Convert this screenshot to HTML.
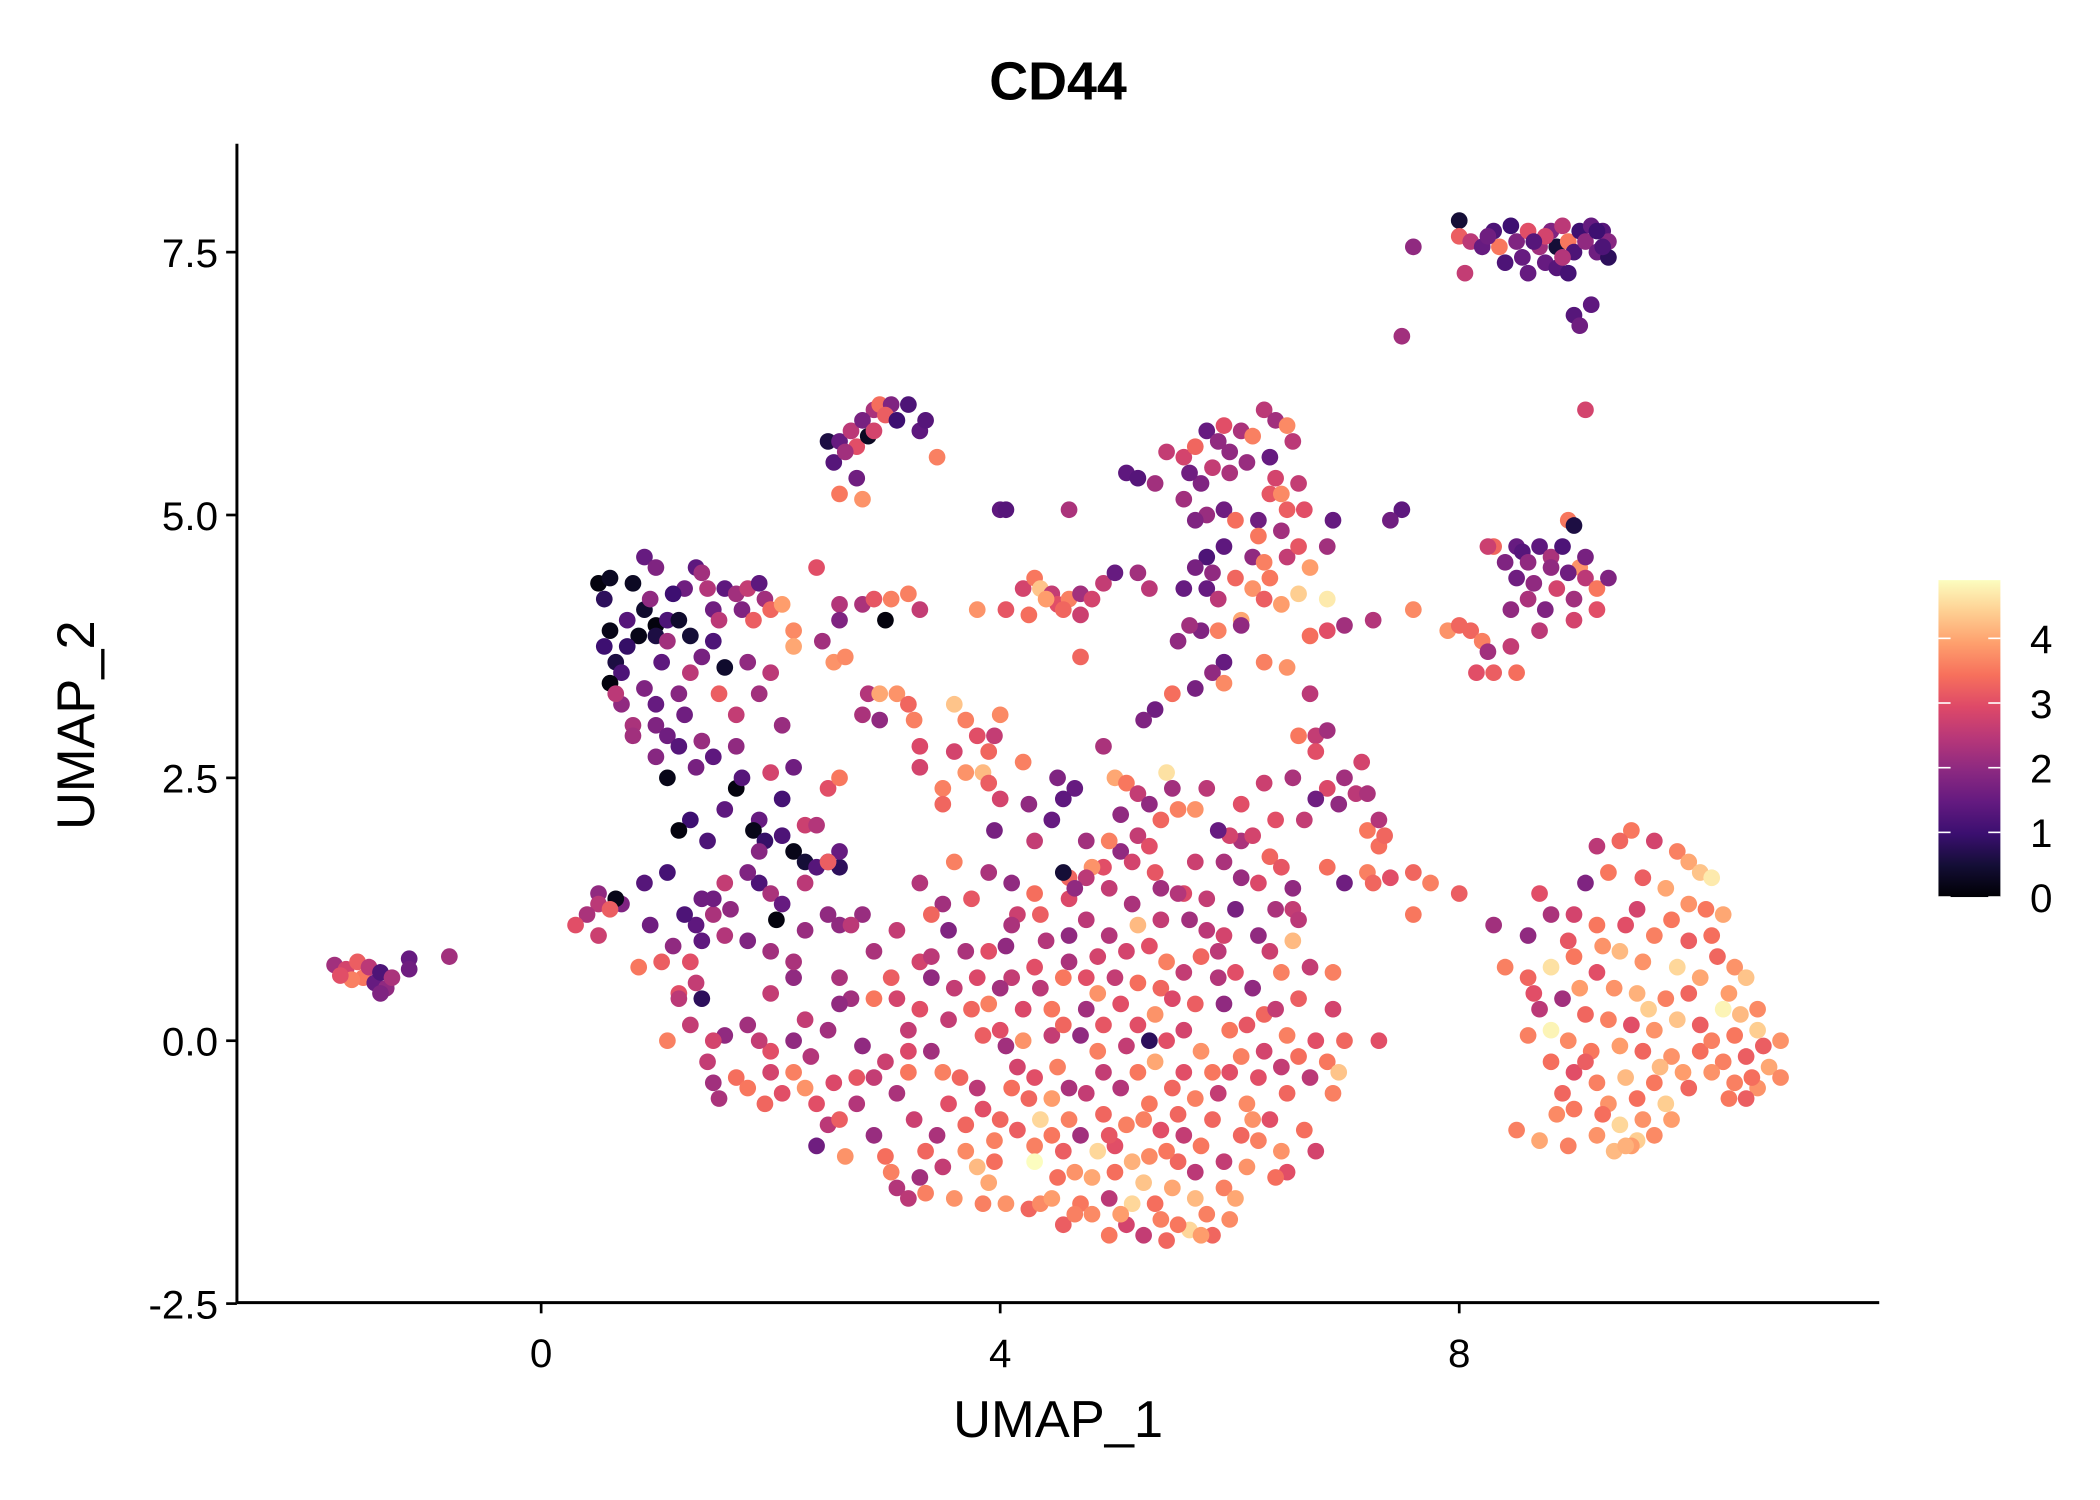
<!DOCTYPE html>
<html><head><meta charset="utf-8"><style>
html,body{margin:0;padding:0;background:#fff;}
svg{display:block;font-family:"Liberation Sans",sans-serif;}
</style></head><body>
<svg id="chart" width="2100" height="1500" viewBox="0 0 1560 1117" preserveAspectRatio="none" xmlns="http://www.w3.org/2000/svg">
<defs>
<linearGradient id="magma" x1="0" y1="1" x2="0" y2="0">
<stop offset="0" stop-color="#000004"/><stop offset="0.1" stop-color="#140e36"/><stop offset="0.2" stop-color="#3b0f70"/><stop offset="0.3" stop-color="#641a80"/><stop offset="0.4" stop-color="#8c2981"/><stop offset="0.5" stop-color="#b73779"/><stop offset="0.6" stop-color="#de4968"/><stop offset="0.7" stop-color="#f7705c"/><stop offset="0.8" stop-color="#fe9f6d"/><stop offset="0.9" stop-color="#fecf92"/><stop offset="1" stop-color="#fcfdbf"/>
</linearGradient>
</defs>
<text x="786" y="74" text-anchor="middle" font-size="40" font-weight="bold">CD44</text>
<g id="points"></g>
<g id="axes"></g>
<text x="786" y="1070" text-anchor="middle" font-size="39">UMAP_1</text>
<text x="70" y="540" text-anchor="middle" font-size="39" transform="rotate(-90 70 540)">UMAP_2</text>
<rect x="1440" y="432" width="46" height="236" fill="url(#magma)"/>
<g id="cbar"></g>
</svg>
<script>
const xTicks=[0,4,8];
const yTicks=[-2.5,0,2.5,5,7.5];
const yTickLabels=["-2.5","0.0","2.5","5.0","7.5"];
const cbTicks=[0,1,2,3,4];
const vMax=4.9;
const xs=[],ys=[],vs=[];
const raw=[
[-1.8,0.72,2.2],[-1.7,0.68,2.8],[-1.6,0.75,3.2],[-1.55,0.6,3.5],[-1.5,0.7,2.5],[-1.45,0.55,1.5],[-1.4,0.65,1.2],[-1.35,0.5,2],[-1.3,0.6,2.3],[-1.4,0.45,1.8],[-1.65,0.58,3.6],[-1.15,0.78,1.5],[-1.15,0.68,1.6],[-0.8,0.8,2.2],[-1.75,0.62,3],
[8.0,7.8,0.5],[8.0,7.65,3.2],[8.1,7.6,2.5],[8.2,7.55,1.5],[8.3,7.7,1.2],[8.35,7.55,3.5],[8.45,7.75,1],[8.5,7.6,1.8],[8.55,7.45,1.5],[8.6,7.7,3],[8.7,7.55,2.2],[8.75,7.4,1.5],[8.8,7.7,1.8],[8.85,7.55,0.5],[8.9,7.75,2.5],[8.95,7.6,3.5],[9.0,7.5,1.2],[9.05,7.7,1],[9.1,7.6,2],[9.15,7.75,1.5],[9.2,7.5,1.6],[9.25,7.7,1.3],[9.3,7.45,0.8],[9.3,7.6,1.9],[8.05,7.3,2.6],[8.6,7.3,1.5],[8.85,7.35,1.3],[9.0,6.9,1.3],[9.05,6.8,1.6],[9.15,7.0,1.4],[8.4,7.4,1.2],[7.6,7.55,2],[7.5,6.7,2.2],[9.1,6.0,2.8],[8.75,7.65,2.8],[8.95,7.3,1.1],[8.25,7.65,1.6],[8.65,7.6,1.3],[9.2,7.7,1.0],[8.9,7.45,2.4],[9.25,7.55,1.2],
[8.5,4.7,1.5],[8.55,4.65,1.3],[8.6,4.55,2],[8.7,4.7,1.4],[8.8,4.6,2.3],[8.9,4.7,1.2],[8.95,4.95,3.5],[9.0,4.9,0.6],[9.05,4.5,3.8],[9.1,4.4,2.5],[9.2,4.3,3.5],[9.0,4.2,2.2],[8.85,4.3,2.8],[8.75,4.1,1.8],[8.6,4.2,2.3],[8.5,4.4,1.6],[8.45,4.1,2],[8.7,3.9,2.5],[8.3,4.7,3.3],[8.25,4.7,2.7],[8.1,3.9,3.3],[8.2,3.8,3.6],[8.25,3.7,2.2],[8.15,3.5,3],[8.3,3.5,3.2],[8.5,3.5,3.4],[8.45,3.75,2.6],[9.2,4.1,3],[9.0,4.0,2.8],[7.9,3.9,3.8],[8.0,3.95,3.3],[8.8,4.5,2],[9.1,4.6,1.7],[9.3,4.4,1.8],[8.65,4.35,2.0],[8.95,4.45,1.6],[8.4,4.55,1.8],
[9.5,2.0,3.5],[9.4,1.9,3.3],[9.7,1.9,2.8],[9.9,1.8,3.6],[10,1.7,4],[10.1,1.6,4.3],[10.2,1.55,4.7],[9.2,1.85,2.5],[9.1,1.5,1.8],[9.3,1.6,3.5],[9.6,1.55,3.2],[9.8,1.45,4],[10.0,1.3,3.8],[10.15,1.25,3.5],[10.3,1.2,4],[8.7,1.4,3],[8.8,1.2,2.3],[8.6,1.0,2],[9.0,1.2,2.8],[9.2,1.1,3.5],[9.45,1.1,3],[9.7,1.0,3.6],[10.0,0.95,3.2],[10.2,1.0,3.4],[9.4,0.85,4.2],[9.6,0.75,3.8],[9.9,0.7,4.5],[10.1,0.6,4.0],[10.4,0.7,3.8],[8.4,0.7,3.6],[8.6,0.6,3.3],[8.8,0.7,4.6],[9.0,0.8,3.5],[9.2,0.65,3],[9.35,0.5,3.8],[9.55,0.45,4.1],[9.8,0.4,3.6],[10.0,0.45,3.3],[10.3,0.3,4.8],[10.6,0.3,3.7],[8.7,0.3,2.5],[8.9,0.4,2.2],[9.1,0.25,3.3],[9.3,0.2,3.6],[9.5,0.15,3.0],[9.7,0.1,3.8],[9.9,0.2,4.3],[10.1,0.15,3.2],[10.4,0.05,3.5],[10.6,0.1,4.4],[10.8,0.0,3.8],[8.8,0.1,4.8],[8.95,0.0,3.7],[9.15,-0.1,3.5],[9.4,-0.05,3.9],[9.6,-0.1,3.3],[9.85,-0.15,3.8],[10.1,-0.1,3.4],[10.3,-0.2,3.6],[10.5,-0.15,3.2],[10.7,-0.25,4],[9.0,-0.3,3],[9.2,-0.4,3.6],[9.45,-0.35,4.2],[9.7,-0.4,3.5],[10.0,-0.45,3.3],[10.4,-0.4,3.6],[10.6,-0.45,3.8],[8.9,-0.5,3.3],[9.3,-0.6,3.8],[9.55,-0.55,3.4],[9.8,-0.6,4.4],[10.5,-0.55,3.2],[9.0,-0.65,3.5],[9.4,-0.8,4.5],[9.6,-0.75,3.8],[9.85,-0.75,3.9],[9.2,-0.9,3.8],[9.35,-1.05,4.2],[9.55,-0.95,4.4],[9.7,-0.9,3.7],[8.95,-1.0,3.6],[8.7,-0.95,4],[8.5,-0.85,3.6],[9.5,-1.0,3.9],[8.8,-0.2,3.4],[10.65,-0.05,3.2],[10.2,-0.3,3.8],[10.5,0.6,4.3],[8.3,1.1,2.2],[8.0,1.4,3.2],[7.75,1.5,3.6],[7.6,1.6,3.3],
[9.25,0.9,3.8],[9.55,1.25,2.8],[9.85,1.15,3.5],[10.35,0.45,3.9],[10.25,0.8,3.3],[9.05,0.5,3.9],[8.95,0.95,3.1],[9.65,0.3,4.4],[10.2,0.0,3.6],[10.55,-0.35,3.4],[9.75,-0.25,4.2],[9.1,-0.2,3.2],[8.85,-0.7,3.7],[9.25,-0.7,3.4],[9.45,-1.0,4.1],[10.8,-0.35,3.7],[10.35,-0.55,3.5],[9.95,-0.3,3.9],[8.6,0.05,3.6],[8.65,0.45,3.0],[10.45,0.25,4.2],
[0.5,4.35,0.1],[0.6,4.4,0.3],[0.55,4.2,0.8],[0.6,3.9,0.2],[0.55,3.75,1],[0.65,3.6,0.6],[0.7,3.5,1.2],[0.6,3.4,0.1],[0.8,4.35,0.3],[0.9,4.1,0.4],[1.0,3.95,0.1],[1.0,3.85,0.6],[0.85,3.85,0.2],[0.7,3.2,2.0],[0.65,3.3,2.5],[0.8,3.0,2.3],[0.8,2.9,2.2],[0.9,4.6,1.5],[1.0,4.5,1.8],[0.95,4.2,2],[1.1,4.0,1.2],[1.1,3.8,2.2],[1.2,4.0,0.4],[1.3,3.85,0.5],[1.35,4.5,1.4],[1.4,4.45,2.2],[1.45,4.3,2.4],[1.25,4.3,1.6],[1.5,4.1,1.6],[1.55,4.0,2.5],[1.6,4.3,1.4],[1.7,4.25,2.2],[1.8,4.3,2.6],[1.75,4.1,1.8],[1.9,4.35,1.4],[1.95,4.2,2.2],[2.0,4.1,3.3],[2.1,4.15,3.9],[1.85,4.0,3.2],[1.6,3.55,0.4],[1.4,3.65,1.7],[1.3,3.5,2.5],[1.2,3.3,1.9],[1.0,3.2,1.5],[1.0,3.0,1.8],[1.1,2.9,1.6],[1.2,2.8,1.3],[1.4,2.85,2.1],[1.35,2.6,1.7],[1.5,2.7,1.4],[1.3,2.1,1.0],[1.1,2.5,0.2],[1.2,2.0,0.1],[1.7,3.1,2.6],[1.55,3.3,3.2],[1.9,3.3,2.2],[2.0,3.5,2.5],[2.1,3.0,2.1],[1.7,2.8,2.0],[1.7,2.4,0.1],[1.75,2.5,1.3],[1.9,2.1,1.5],[1.85,2.0,0.2],[1.95,1.9,0.9],[2.1,1.95,1.2],[2.2,1.8,0.2],[2.1,2.3,1.1],[2.0,2.55,2.8],[2.3,1.7,0.5],[2.4,1.65,1.3],[2.6,1.65,0.8],[2.5,1.7,1.7],[2.6,1.8,1.5],[1.9,1.8,1.9],[1.9,1.5,1.2],[2.0,1.4,2.3],[2.05,1.15,0.1],[2.1,1.3,1.5],[1.8,1.6,1.8],[1.6,1.5,2.6],[1.5,1.2,2.3],[1.4,1.35,1.6],[1.35,1.1,1.4],[1.25,1.2,1.2],[1.1,1.6,1.1],[0.9,1.5,1.3],[0.7,1.3,1.8],[0.65,1.35,0.2],[0.5,1.4,2.0],[0.5,1.3,2.5],[0.6,1.25,3.2],[0.4,1.2,2.3],[0.3,1.1,3.0],[0.5,1.0,2.7],[1.6,1.0,2.4],[1.4,0.95,1.4],[1.8,0.95,1.8],[2.0,0.85,2.2],[2.3,1.05,2.1],[2.6,1.1,2.0],[1.5,1.35,1.6],[1.15,0.9,2.0],[0.85,0.7,3.5],[1.05,0.75,3.2],[1.3,0.75,3.0],[1.35,0.55,2.6],[1.4,0.4,0.8],[1.2,0.45,3.0],[2.3,1.5,2.5],
[0.75,4.0,1.3],[1.15,4.25,1.0],[1.05,3.6,1.4],[0.75,3.75,0.9],[1.5,3.8,1.2],[1.8,3.6,2.0],[1.25,3.1,1.6],[0.9,3.35,1.8],[1.6,2.2,1.4],[1.45,1.9,1.2],[2.2,2.6,1.6],[1.0,2.7,1.9],[1.65,1.25,2.0],[0.95,1.1,1.6],
[2.4,4.5,3.0],[2.6,4.15,2.4],[2.6,4.0,1.8],[2.8,4.15,2.3],[2.9,4.2,3.1],[3.0,4.0,0.1],[3.05,4.2,3.6],[3.2,4.25,3.6],[3.3,4.1,2.6],[2.2,3.9,3.7],[2.2,3.75,4.0],[2.55,3.6,3.8],[2.65,3.65,3.7],[2.85,3.3,2.4],[2.95,3.3,4.0],[3.1,3.3,3.8],[2.8,3.1,2.3],[2.95,3.05,2.0],[3.25,3.05,3.6],[3.3,2.8,2.9],[2.45,3.8,2.2],[2.5,2.4,3.0],[2.6,2.5,3.5],[2.3,2.05,2.7],[2.4,2.05,2.4],[2.5,1.7,3.2],
[2.5,5.7,0.6],[2.6,5.7,1.5],[2.7,5.8,2.5],[2.75,5.65,3],[2.85,5.75,0.3],[2.9,6.0,2.3],[2.95,6.05,3.4],[3.05,6.05,1.8],[3.2,6.05,1.2],[2.8,5.9,1.7],[2.9,5.8,2.8],[3.3,5.8,1.4],[3.35,5.9,1.3],[2.55,5.5,1.3],[2.75,5.35,1.6],[2.6,5.2,3.5],[2.8,5.15,3.8],[3.45,5.55,3.6],[3.0,5.95,3.2],[2.65,5.6,2.2],[3.1,5.9,1.0],
[4.0,5.05,1.4],[4.05,5.05,1.3],[4.6,5.05,2.3],[4.2,4.3,2.8],[4.3,4.4,3.5],[4.35,4.3,4.3],[4.45,4.25,2.6],[4.5,4.15,3],[4.6,4.2,3.6],[4.7,4.05,2.7],[4.7,4.25,2.2],[4.8,4.2,2.8],[4.9,4.35,2.6],[4.25,4.05,3.4],[4.05,4.1,3.1],[3.8,4.1,3.8],[5.0,4.45,1.5],[4.7,3.65,3.3],[5.2,4.45,2.2],[5.3,4.3,2.5],[4.55,4.1,3.3],[4.4,4.2,3.9],
[5.1,5.4,1.4],[5.2,5.35,1.3],[5.35,5.3,2.2],[5.45,5.6,2.6],[5.6,5.55,2.8],[5.7,5.65,3.3],[5.8,5.8,1.5],[5.9,5.7,2.0],[5.95,5.85,3.0],[6.1,5.8,2.3],[6.3,6.0,2.5],[6.2,5.75,3.6],[6.4,5.9,2.2],[6.5,5.85,3.7],[6.55,5.7,2.5],[6.35,5.55,1.5],[6.15,5.5,2.1],[6.0,5.4,2.3],[5.85,5.45,2.6],[5.75,5.3,1.8],[5.6,5.15,2.2],[5.8,5.0,2.1],[5.95,5.05,1.6],[6.05,4.95,3.4],[6.25,4.95,1.6],[6.35,5.2,3.1],[6.45,5.2,3.7],[6.5,5.05,3.2],[6.6,5.3,2.6],[6.65,5.05,3.0],[6.5,4.6,2.6],[6.6,4.7,3.1],[6.7,4.5,3.9],[6.45,4.85,2.2],[6.25,4.8,3.5],[5.7,4.95,1.8],[5.8,4.6,1.2],[5.85,4.45,2.0],[5.7,4.5,1.7],[5.6,4.3,1.5],[5.8,4.3,1.5],[5.9,4.2,2.5],[5.9,3.9,3.6],[5.75,3.9,1.8],[5.65,3.95,2.2],[5.55,3.8,2.0],[6.1,4.0,4.0],[6.2,4.3,3.8],[6.3,4.2,3.2],[6.35,4.4,3.5],[6.45,4.15,3.9],[6.6,4.25,4.4],[6.85,4.2,4.7],[6.7,3.85,3.4],[6.85,3.9,3.0],[6.1,3.95,2.0],[5.95,3.6,1.5],[5.85,3.5,2.0],[5.7,3.35,1.7],[5.5,3.3,3.4],[5.95,3.4,3.7],[6.3,3.6,3.6],[6.5,3.55,3.8],[6.7,3.3,2.5],[5.35,3.15,1.6],[5.25,3.05,1.8],[6.9,4.95,1.5],[6.2,4.6,2.0],[7.25,4.0,2.4],[7.5,5.05,1.4],[7.4,4.95,1.6],[7.6,4.1,3.7],[7.0,3.95,2.2],[6.85,4.7,2.2],[6.3,4.55,3.6],[6.0,5.6,2.0],[5.65,5.4,1.6],[6.4,5.35,2.8],[5.95,4.7,1.4],[6.05,4.4,3.3],
[3.2,3.2,3.3],[3.3,2.6,2.8],[3.6,3.2,4.3],[3.7,3.05,3.6],[3.6,2.75,2.8],[3.8,2.9,3.0],[3.9,2.75,3.3],[4.0,3.1,3.7],[3.95,2.9,2.6],[3.7,2.55,3.8],[3.5,2.4,3.6],[3.85,2.55,4.2],[3.9,2.45,3.2],[4.2,2.65,3.6],[4.0,2.3,2.8],[3.5,2.25,3.3],[4.25,2.25,2.0],[3.95,2.0,1.7],[4.5,2.5,1.8],[4.65,2.4,1.5],[4.55,2.3,1.4],[4.45,2.1,1.5],[4.9,2.8,2.3],[5.0,2.5,4.0],[5.1,2.45,3.5],[5.2,2.35,2.6],[5.3,2.25,2.0],[5.45,2.55,4.6],[5.5,2.4,2.2],[5.55,2.2,3.6],[5.05,2.15,2.0],[5.4,2.1,3.3],[5.7,2.2,3.8],[5.8,2.4,2.5],[5.2,1.95,2.6],[5.3,1.85,3.0],[5.05,1.8,2.0],[5.15,1.7,2.8],[4.95,1.9,3.6],[4.9,1.65,3.0],[4.8,1.65,3.8],[4.75,1.55,2.5],[4.6,1.55,3.3],[4.55,1.6,0.5],[4.3,1.4,3.4],[4.6,1.35,2.9],[4.65,1.45,2.0],[4.95,1.45,2.6],[5.15,1.3,2.3],[5.4,1.45,2.2],[5.6,1.4,2.9],[5.8,1.35,2.6],[5.95,1.7,2.3],[6.1,1.9,2.3],[6.2,1.95,2.8],[6.35,1.75,3.3],[6.1,1.55,2.1],[6.25,1.5,2.9],[6.45,1.65,3.1],[6.55,1.45,2.0],[6.85,1.65,3.4],[7.0,1.5,1.6],[7.2,1.6,3.6],[7.25,1.5,3.3],[7.4,1.55,3.0],[7.3,1.85,3.4],[7.35,1.95,3.3],[7.2,2.0,3.5],[7.1,2.35,2.5],[7.2,2.35,2.3],[7.0,2.5,2.2],[7.15,2.65,2.8],[6.75,2.9,2.6],[6.85,2.95,2.2],[6.6,2.9,3.5],[6.55,2.5,2.3],[6.85,2.4,2.9],[6.95,2.25,2.0],[6.65,2.1,2.6],[6.75,2.3,1.6],[6.3,2.45,2.7],[6.1,2.25,3.0],[6.0,1.95,2.8],[6.75,2.75,3.0],[5.9,2.0,1.5],[7.3,2.1,2.4],[3.6,1.7,3.6],[3.9,1.6,2.3],[4.1,1.5,2.0],[3.5,1.3,2.2],[3.4,1.2,3.3],
[4.3,1.9,2.6],[4.75,1.9,2.2],[5.35,1.6,3.1],[5.7,1.7,2.7],[6.4,2.1,3.0],[6.55,1.25,2.6],[4.15,1.2,2.7],[3.75,1.35,3.1],[3.3,1.5,2.4],[3.1,1.05,2.6],[2.9,0.85,2.3],[2.8,1.2,2.1],
[2.5,1.2,2.0],[2.7,1.1,2.5],[2.6,0.6,2.3],[2.7,0.4,2.2],[2.6,0.35,2.0],[2.5,0.1,2.2],[2.3,0.2,2.6],[2.2,0.0,2.0],[2.0,-0.1,3.0],[1.9,0.0,2.6],[1.8,0.15,2.2],[1.6,0.05,2.0],[1.5,0.0,2.8],[1.3,0.15,2.6],[1.2,0.4,2.5],[1.1,0.0,3.6],[1.45,-0.2,2.6],[1.5,-0.4,2.2],[1.55,-0.55,2.3],[1.7,-0.35,3.4],[1.8,-0.45,3.5],[1.95,-0.6,3.3],[2.0,-0.3,2.8],[2.1,-0.5,3.0],[2.2,-0.3,3.6],[2.3,-0.45,3.8],[2.4,-0.6,3.0],[2.5,-0.8,2.5],[2.4,-1.0,1.6],[2.6,-0.75,3.2],[2.65,-1.1,3.8],[2.75,-0.6,2.4],[2.9,-0.35,2.6],[3.0,-0.2,2.7],[3.1,-0.5,2.3],[2.9,-0.9,2.1],[3.0,-1.1,3.4],[3.05,-1.25,3.6],[3.1,-1.4,2.4],[3.3,-1.3,2.2],[3.35,-1.45,3.6],[3.6,-1.5,3.8],[3.8,-1.2,4.2],[3.5,-1.2,2.6],[3.45,-0.9,2.3],[3.7,-0.8,3.3],[3.85,-0.65,3.0],[3.95,-0.95,3.6],[4.0,-0.75,3.3],[3.8,-0.45,2.5],[3.65,-0.35,3.3],[3.5,-0.3,3.6],[3.4,-0.1,2.2],[3.2,0.1,2.6],[3.3,0.3,3.0],[3.1,0.4,2.8],[2.9,0.4,3.5],[3.05,0.6,3.2],[3.4,0.6,2.0],[3.6,0.5,2.6],[3.75,0.3,3.3],[3.7,0.85,2.3],[3.55,1.05,1.8],[3.9,0.85,3.0],[4.05,0.9,2.0],[4.1,0.6,2.6],[3.9,0.35,3.6],[4.0,0.1,3.0],[4.05,-0.05,2.2],[4.2,0.0,3.8],[4.15,-0.25,2.8],[4.3,-0.35,3.0],[4.25,-0.55,3.3],[4.35,-0.75,4.5],[4.3,-1.0,3.6],[4.3,-1.15,4.9],[4.25,-1.6,3.3],[4.05,-1.55,3.8],[4.5,-1.3,3.4],[4.55,-1.05,3.2],[4.6,-0.75,3.6],[4.6,-0.45,2.3],[4.5,-0.25,3.6],[4.45,0.05,2.6],[4.45,0.3,3.5],[4.35,0.5,2.5],[4.3,0.7,3.0],[4.4,0.95,2.4],[4.35,1.2,3.2],[4.6,1.0,2.0],[4.6,0.75,2.3],[4.75,0.6,3.0],[4.85,0.45,3.8],[4.75,0.3,2.2],[4.7,0.05,2.0],[4.85,-0.1,3.6],[4.9,-0.3,2.6],[4.75,-0.5,2.6],[4.9,-0.7,3.3],[4.7,-0.9,2.2],[4.85,-1.05,4.5],[4.8,-1.3,4.0],[4.7,-1.55,3.5],[4.8,-1.65,3.7],[4.95,-1.5,2.5],[5.0,-1.25,3.4],[5.0,-1.0,3.0],[5.1,-0.8,3.6],[5.05,-0.45,2.4],[5.2,-0.3,3.5],[5.1,-0.05,2.6],[5.2,0.15,3.0],[5.05,0.35,3.0],[5.0,0.6,2.6],[5.1,0.85,2.8],[4.95,1.0,2.4],[5.2,1.1,4.2],[5.3,0.9,3.0],[5.45,0.75,3.6],[5.4,0.5,3.3],[5.35,0.25,3.8],[5.45,0.0,3.0],[5.35,-0.2,4.0],[5.5,-0.45,3.3],[5.3,-0.6,3.5],[5.4,-0.85,3.0],[5.3,-1.1,3.7],[5.25,-1.35,4.3],[5.15,-1.55,4.5],[5.1,-1.75,2.8],[5.25,-1.85,2.6],[5.4,-1.7,3.6],[5.5,-1.4,4.0],[5.55,-1.15,3.3],[5.6,-0.9,2.6],[5.7,-0.55,3.6],[5.6,-0.3,3.0],[5.75,-0.1,3.8],[5.6,0.1,2.8],[5.7,0.35,3.2],[5.6,0.65,2.6],[5.75,0.8,3.3],[5.8,1.05,2.5],[5.65,1.15,2.2],[5.9,0.6,2.4],[5.95,0.35,2.0],[6.0,0.1,3.5],[6.1,-0.15,3.6],[6.0,-0.3,3.0],[5.9,-0.5,2.6],[5.85,-0.75,3.3],[5.75,-1.0,3.5],[5.7,-1.25,2.5],[5.7,-1.5,4.2],[5.8,-1.65,3.6],[5.85,-1.85,3.3],[5.65,-1.8,4.5],[5.95,-1.4,3.6],[5.95,-1.15,2.6],[6.1,-0.9,3.3],[6.15,-0.6,3.7],[6.25,-0.35,3.0],[6.3,-0.1,2.8],[6.3,0.25,3.3],[6.2,0.5,2.0],[6.45,0.65,3.6],[6.55,0.95,4.2],[6.6,1.15,2.5],[6.4,1.25,2.3],[6.25,1.0,2.0],[6.4,0.3,2.6],[6.5,0.05,3.6],[6.45,-0.25,2.6],[6.5,-0.5,3.3],[6.35,-0.75,3.0],[6.25,-0.95,3.6],[6.45,-1.05,3.8],[6.65,-0.85,3.4],[6.75,-1.05,2.8],[6.7,-0.35,2.5],[6.85,-0.2,3.5],[6.9,-0.5,3.6],[6.75,0.0,3.0],[7.0,0.0,3.3],[6.9,0.3,2.8],[6.9,0.65,3.6],[6.95,-0.3,4.3],[7.3,0.0,3.0],[7.6,1.2,3.5],[6.15,-1.2,3.8],[6.5,-1.25,3.0],[6.05,-1.5,4.0],[3.2,-0.3,3.5],[2.8,-0.05,2.0],[2.2,0.6,2.0],[2.0,0.45,2.6],[2.2,0.75,2.3],[3.3,0.75,2.8],[3.4,0.8,2.5],[4.0,0.5,2.2],[5.55,1.4,2.4],[5.9,0.85,2.5],[6.05,1.25,1.7],[5.95,1.0,2.8],[4.55,0.6,3.5],[5.3,0.0,0.8],[3.95,-1.15,3.4],[4.35,-1.55,3.7],[4.55,-1.75,3.2],[4.65,-1.65,3.6],[5.05,-1.65,3.9],[5.35,-1.55,3.4],[5.55,-1.75,3.5],[5.75,-1.85,3.9],[3.2,-1.5,2.5],
[2.35,-0.15,2.4],[2.75,-0.35,3.1],[2.55,-0.4,2.9],[3.25,-0.75,2.7],[3.55,-0.6,3.0],[3.35,-1.05,3.3],[3.7,-1.05,3.7],[3.9,-1.35,4.0],[4.1,-0.45,3.4],[4.15,-0.85,3.2],[4.45,-0.55,3.9],[4.45,-0.9,3.5],[4.65,-1.25,3.8],[4.95,-0.9,3.1],[5.15,-1.15,4.1],[5.25,-0.75,3.6],[5.45,-1.05,3.5],[5.55,-0.7,3.3],[5.85,-0.3,3.5],[5.5,0.4,2.9],[5.2,0.55,3.4],[4.9,0.15,3.1],[4.55,0.15,3.3],[4.2,0.3,2.9],[3.85,0.05,3.2],[3.55,0.2,2.6],[3.2,-0.1,2.9],[6.15,0.15,3.1],[6.05,0.65,3.0],[6.35,0.85,2.7],[6.6,0.4,3.2],[6.7,0.7,2.6],[6.6,-0.15,3.4],[6.2,-0.75,3.8],[6.4,-1.3,3.4],[6.0,-1.7,3.7],[5.45,-1.9,3.3],[4.95,-1.85,3.5],[4.45,-1.5,3.9],[3.85,-1.55,3.6],[4.85,0.8,2.8],[5.4,1.15,2.6],[4.75,1.15,2.5],[4.1,1.1,2.3],[3.8,0.6,2.9]
];
raw.forEach(p=>{xs.push(p[0]);ys.push(p[1]);vs.push(p[2]);});

const NS="http://www.w3.org/2000/svg";
const X0=176,X1=1396,Y0=970,Y1=107;
const sx=v=>402+v*85.25;
const sy=v=>775-v*78.3;
const cb=v=>668-v*(236/vMax);
const stops=["#000004","#140e36","#3b0f70","#641a80","#8c2981","#b73779","#de4968","#f7705c","#fe9f6d","#fecf92","#fcfdbf"];
function hex(h){return [1,3,5].map(i=>parseInt(h.substr(i,2),16));}
function magma(t){t=Math.max(0,Math.min(1,t));const f=t*10,i=Math.min(9,Math.floor(f)),r=f-i;const a=hex(stops[i]),b=hex(stops[i+1]);return "rgb("+a.map((c,k)=>Math.round(c+(b[k]-c)*r)).join(",")+")";}
function mk(tag,attrs,parent){const e=document.createElementNS(NS,tag);for(const k in attrs)e.setAttribute(k,attrs[k]);parent.appendChild(e);return e;}

const gp=document.getElementById('points');
for(let i=0;i<xs.length;i++){
  const c=mk('circle',{cx:sx(xs[i]),cy:sy(ys[i]),r:6.2,fill:magma(vs[i]/vMax)},gp);
  
  
}
const ga=document.getElementById('axes');
let l=mk('line',{x1:X0,y1:Y0,x2:X1,y2:Y0,stroke:'#000','stroke-width':2.2},ga);


l=mk('line',{x1:X0,y1:Y0,x2:X0,y2:Y1,stroke:'#000','stroke-width':2.2},ga);


xTicks.forEach(v=>{
  const t=mk('line',{x1:sx(v),y1:Y0,x2:sx(v),y2:Y0+8,stroke:'#000','stroke-width':2},ga);
  
  
  const tx=mk('text',{x:sx(v),y:Y0+48,'text-anchor':'middle','font-size':30},ga);
  tx.textContent=String(v);
  
  
});
yTicks.forEach((v,i)=>{
  const t=mk('line',{x1:X0-8,y1:sy(v),x2:X0,y2:sy(v),stroke:'#000','stroke-width':2},ga);
  
  
  const tx=mk('text',{x:X0-14,y:sy(v)+11,'text-anchor':'end','font-size':30},ga);
  tx.textContent=yTickLabels[i];
  
  
});
const gc=document.getElementById('cbar');
cbTicks.forEach(v=>{
  const y=cb(v);
  let t=mk('line',{x1:1440,y1:y,x2:1449,y2:y,stroke:'#fff','stroke-width':1.2},gc);
  
  
  t=mk('line',{x1:1477,y1:y,x2:1486,y2:y,stroke:'#fff','stroke-width':1.2},gc);
  
  
  const tx=mk('text',{x:1508,y:y+11,'font-size':30},gc);
  tx.textContent=String(v);
  
  
});
</script>
</body></html>
